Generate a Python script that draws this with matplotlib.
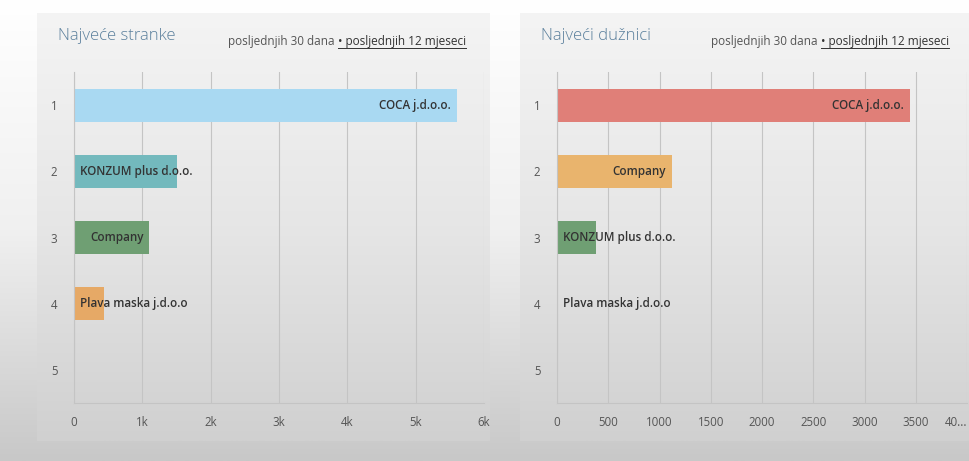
import numpy as np
import matplotlib
matplotlib.use('Agg')
import matplotlib.pyplot as plt

# data
ranks = [1, 2, 3, 4, 5]

left_names = ['COCA j.d.o.o.', 'KONZUM plus d.o.o.', 'Company', 'Plava maska j.d.o.o']
left_values = [5600, 1500, 1100, 440]
left_colors = ['#a9d9f2', '#73b9bd', '#6f9f73', '#e6a966']
left_ticks = [0, 1000, 2000, 3000, 4000, 5000, 6000]
left_ticklabels = ['0', '1k', '2k', '3k', '4k', '5k', '6k']

right_names = ['COCA j.d.o.o.', 'Company', 'KONZUM plus d.o.o.', 'Plava maska j.d.o.o']
right_values = [3440, 1120, 380, 0]
right_colors = ['#e07f78', '#e9b46d', '#6f9f73', '#cccccc']
right_ticks = [0, 500, 1000, 1500, 2000, 2500, 3000, 3500, 4000]
right_ticklabels = ['0', '500', '1000', '1500', '2000', '2500', '3000', '3500', '40...']

FONT = ['Open Sans', 'DejaVu Sans']
W, H = 969, 461

fig = plt.figure(figsize=(W / 100, H / 100), dpi=100)

# page background: white at top, grey toward the bottom
bg = fig.add_axes([0, 0, 1, 1], zorder=-10)
grad = np.linspace(0, 1, 256)[:, None]
bg.imshow(grad, cmap=matplotlib.colors.LinearSegmentedColormap.from_list(
    'pg', ['#ffffff', '#f0f0f0', '#c8c8c8']), aspect='auto', extent=[0, 1, 0, 1])
bg.set_xlim(0, 1); bg.set_ylim(0, 1); bg.axis('off')

card_cmap = matplotlib.colors.LinearSegmentedColormap.from_list(
    'cd', ['#f4f4f4', '#e6e6e6', '#d0d0d0'])


def px(x0, y0, x1, y1):
    return [x0 / W, 1 - y1 / H, (x1 - x0) / W, (y1 - y0) / H]


def panel(card, box, title, names, values, colors, ticks, ticklabels, xmax,
          title_x, sub_x, last_right=False):
    c = fig.add_axes(px(*card), zorder=-5)
    c.imshow(grad, cmap=card_cmap, aspect='auto', extent=[0, 1, 0, 1])
    c.set_xlim(0, 1); c.set_ylim(0, 1); c.axis('off')

    ax = fig.add_axes(px(*box))
    ax.set_facecolor('none')
    ax.barh(ranks[:len(values)], values, height=0.5, color=colors[:len(values)],
            zorder=2)
    ax.set_xlim(0, xmax)
    ax.set_ylim(5.5, 0.5)
    ax.set_xticks(ticks)
    ax.set_xticklabels(ticklabels)
    ax.set_yticks(ranks)
    ax.tick_params(length=0, labelsize=8.3, colors='#555555', pad=9)
    ax.tick_params(axis='y', pad=12)
    for lab in ax.get_xticklabels() + ax.get_yticklabels():
        lab.set_family(FONT)
    if last_right:
        ax.get_xticklabels()[-1].set_ha('right')
    ax.grid(axis='x', color='#c4c4c4', lw=0.8, zorder=0)
    for s in ['top', 'right']:
        ax.spines[s].set_visible(False)
    for s in ['left', 'bottom']:
        ax.spines[s].set_color('#c4c4c4')
        ax.spines[s].set_linewidth(0.8)

    # bar labels: right-aligned inside bar if it fits, else from bar start
    r = fig.canvas.get_renderer()
    for y, n, v in zip(ranks, names, values):
        t = ax.annotate(n, (v, y), xytext=(-4, 0), textcoords='offset points',
                        ha='right', va='center', fontsize=8.4, fontweight='semibold',
                        color='#333333', family=FONT, zorder=3)
        bb = t.get_window_extent(r)
        x0 = ax.transData.transform((0, y))[0]
        if bb.x0 < x0 + 4:
            t.remove()
            ax.annotate(n, (0, y), xytext=(4.5, 0), textcoords='offset points',
                        ha='left', va='center', fontsize=8.4, fontweight='semibold',
                        color='#333333', family=FONT, zorder=3)

    fig.text(title_x / W, 1 - 36 / H, title, fontsize=12, color='#5a7f9c',
             fontweight='light', family=FONT, va='center', ha='left')
    t1 = fig.text(sub_x / W, 1 - 45 / H, 'posljednjih 30 dana ', fontsize=8.5,
                  color='#555555', family=FONT, va='baseline', ha='left')
    bb = t1.get_window_extent(r)
    t2 = fig.text(bb.x1 / W, 1 - 45 / H, '\u2022 posljednjih 12 mjeseci',
                  fontsize=8.5, color='#333333', family=FONT, va='baseline',
                  ha='left')
    b2 = t2.get_window_extent(r)
    fig.add_artist(plt.Line2D([b2.x0 / W, b2.x1 / W],
                              [(1 - 48 / H), (1 - 48 / H)],
                              color='#333333', lw=0.7))
    return ax


panel((37, 13, 489, 441), (74, 72, 484, 403), 'Najveće stranke',
      left_names, left_values, left_colors, left_ticks, left_ticklabels, 6000,
      58, 228)
panel((520, 13, 969, 441), (557, 72, 967, 403), 'Najveći dužnici',
      right_names, right_values, right_colors, right_ticks, right_ticklabels, 4000,
      541, 711, last_right=True)

fig.savefig('out.png', dpi=100)
